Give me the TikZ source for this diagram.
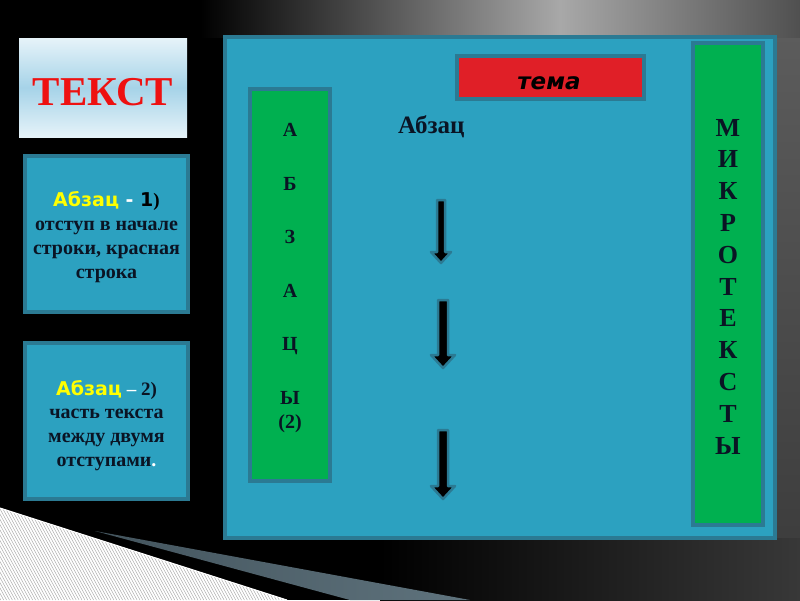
\documentclass[tikz,border=0pt]{standalone}
\usepackage{fontspec}
\setmainfont{Liberation Serif}
\newfontfamily\vsans{DejaVu Sans}
\definecolor{panel}{HTML}{2CA1C0}
\definecolor{edge}{HTML}{2B7A93}
\definecolor{grn}{HTML}{00B050}
\definecolor{rd}{HTML}{E01F27}
\definecolor{yel}{HTML}{FFFF00}
\definecolor{ink}{HTML}{0A1424}
\definecolor{tbtop}{HTML}{E6F3F9}
\definecolor{tbmid}{HTML}{A6D3E8}
\definecolor{stripeA}{HTML}{43545D}
\definecolor{stripeB}{HTML}{5F737D}
\definecolor{titlered}{HTML}{EE1111}
\definecolor{glow}{HTML}{A8A8A8}
\definecolor{glowend}{HTML}{505050}
\definecolor{sidetop}{HTML}{5E5E5E}
\definecolor{sidebot}{HTML}{3A3A3A}
\definecolor{botgray}{HTML}{383838}
\tikzset{
  box/.style={draw=edge, line width=4pt, fill=panel, inner sep=0pt},
  gbox/.style={draw=edge, line width=4pt, fill=grn, inner sep=0pt},
  rbox/.style={draw=edge, line width=4pt, fill=rd, inner sep=0pt},
  bodytxt/.style={anchor=base, inner sep=0pt, text=ink, font=\fontsize{20}{24}\selectfont\bfseries},
  lefttxt/.style={anchor=base, inner sep=0pt, text=ink, font=\fontsize{20}{24}\selectfont\bfseries},
  righttxt/.style={anchor=base, inner sep=0pt, text=ink, font=\fontsize{26}{30}\selectfont\bfseries},
  blockarr/.style={draw=edge, line width=2.5pt, fill=black, line join=round},
}
\begin{document}
\begin{tikzpicture}[x=1pt,y=-1pt]
\useasboundingbox (0,0) rectangle (800,600);
% background
\fill[black] (0,0) rectangle (800,600);
\shade[top color=sidetop, bottom color=sidebot] (776,0) rectangle (800,600);
\shade[left color=black, right color=botgray] (380,538) rectangle (800,600);
\shade[left color=black, right color=glow] (200,0) rectangle (560,37);
\shade[left color=glow, right color=glowend] (560,0) rectangle (800,37);
% bottom-left hatched area
\begin{scope}
  \clip (0,508) -- (287,600) -- (0,600) -- cycle;
  \fill[white] (0,500) rectangle (300,600);
  \foreach \i in {0,...,125}
    \draw[gray!70, line width=0.45pt] ({-60+2.9*\i},500) -- ({-5+2.9*\i},600);
\end{scope}
\draw[white, line width=1pt] (0,508) -- (287,600);
\shade[left color=stripeA, right color=stripeB] (95,531) -- (470,600) -- (350,600) -- cycle;
% title box
\node[inner sep=0pt, minimum width=168pt, minimum height=99pt,
      top color=tbtop, bottom color=tbtop, middle color=tbmid] (title) at (103,87.5) {};
\node[anchor=base, inner sep=0pt, text=titlered, font=\fontsize{41}{44}\selectfont\bfseries] (titletxt) at (103,105) {ТЕКСТ};
% left boxes
\node[box, minimum width=163pt, minimum height=156pt] (b1) at (106.5,234) {};
\node[box, minimum width=163pt, minimum height=156pt] (b2) at (106.5,421) {};
\node[anchor=base, inner sep=0pt, font=\fontsize{19}{22}\selectfont] (b1a) at (106.5,206)
  {{\vsans\bfseries\textcolor{yel}{Абзац}\ \textcolor{white}{-}\ \textcolor{black}{1}}\textcolor{black}{\bfseries)}};
\node[bodytxt] (b1b) at (106.5,230) {отступ в начале};
\node[bodytxt] (b1c) at (106.5,254) {строки, красная};
\node[bodytxt] (b1d) at (106.5,278) {строка};
\node[anchor=base, inner sep=0pt, font=\fontsize{19}{22}\selectfont] (b2a) at (106.5,395)
  {{\vsans\bfseries\textcolor{yel}{Абзац}}\ \textcolor{white}{\bfseries –}\ \textcolor{ink}{\bfseries 2)}};
\node[bodytxt] (b2b) at (106.5,418) {часть текста};
\node[bodytxt] (b2c) at (106.5,442) {между двумя};
\node[bodytxt] (b2d) at (106.5,466) {отступами\textcolor{white}{.}};
% main panel
\node[box, minimum width=550pt, minimum height=501pt] (main) at (500,287.5) {};
\node[gbox, minimum width=80pt, minimum height=392pt] (gl) at (290,285) {};
\node[gbox, minimum width=70pt, minimum height=482pt] (gr) at (728,284) {};
\node[rbox, minimum width=187pt, minimum height=43pt] (tema) at (550.5,77.5) {};
\node[anchor=base, inner sep=0pt, font=\vsans\bfseries\itshape\fontsize{23}{26}\selectfont] (tematxt) at (549,89) {тема};
\node[anchor=base west, inner sep=0pt, text=ink, font=\fontsize{25}{28}\selectfont\bfseries] (abz) at (398,133) {Абзац};
% left green letters
\node[lefttxt] (l1) at (290,136.5) {А};
\node[lefttxt] (l2) at (290,190) {Б};
\node[lefttxt] (l3) at (290,243.5) {З};
\node[lefttxt] (l4) at (290,297) {А};
\node[lefttxt] (l5) at (290,350.5) {Ц};
\node[lefttxt] (l6) at (290,404) {Ы};
\node[lefttxt] (l7) at (290,428) {(2)};
% right green letters
\foreach \ch [count=\i from 0] in {М,И,К,Р,О,Т,Е,К,С,Т,Ы}
  \node[righttxt] (r\i) at (728,{136+31.8*\i}) {\ch};
% block arrows
\filldraw[blockarr] (437,200) -- (445,200) -- (445,252) -- (451,252) -- (441,263) -- (431,252) -- (437,252) -- cycle;
\filldraw[blockarr] (438,300) -- (448,300) -- (448,355) -- (455,355) -- (443,368) -- (431,355) -- (438,355) -- cycle;
\filldraw[blockarr] (438,430) -- (448,430) -- (448,486) -- (455,486) -- (443,499) -- (431,486) -- (438,486) -- cycle;
\end{tikzpicture}
\end{document}
